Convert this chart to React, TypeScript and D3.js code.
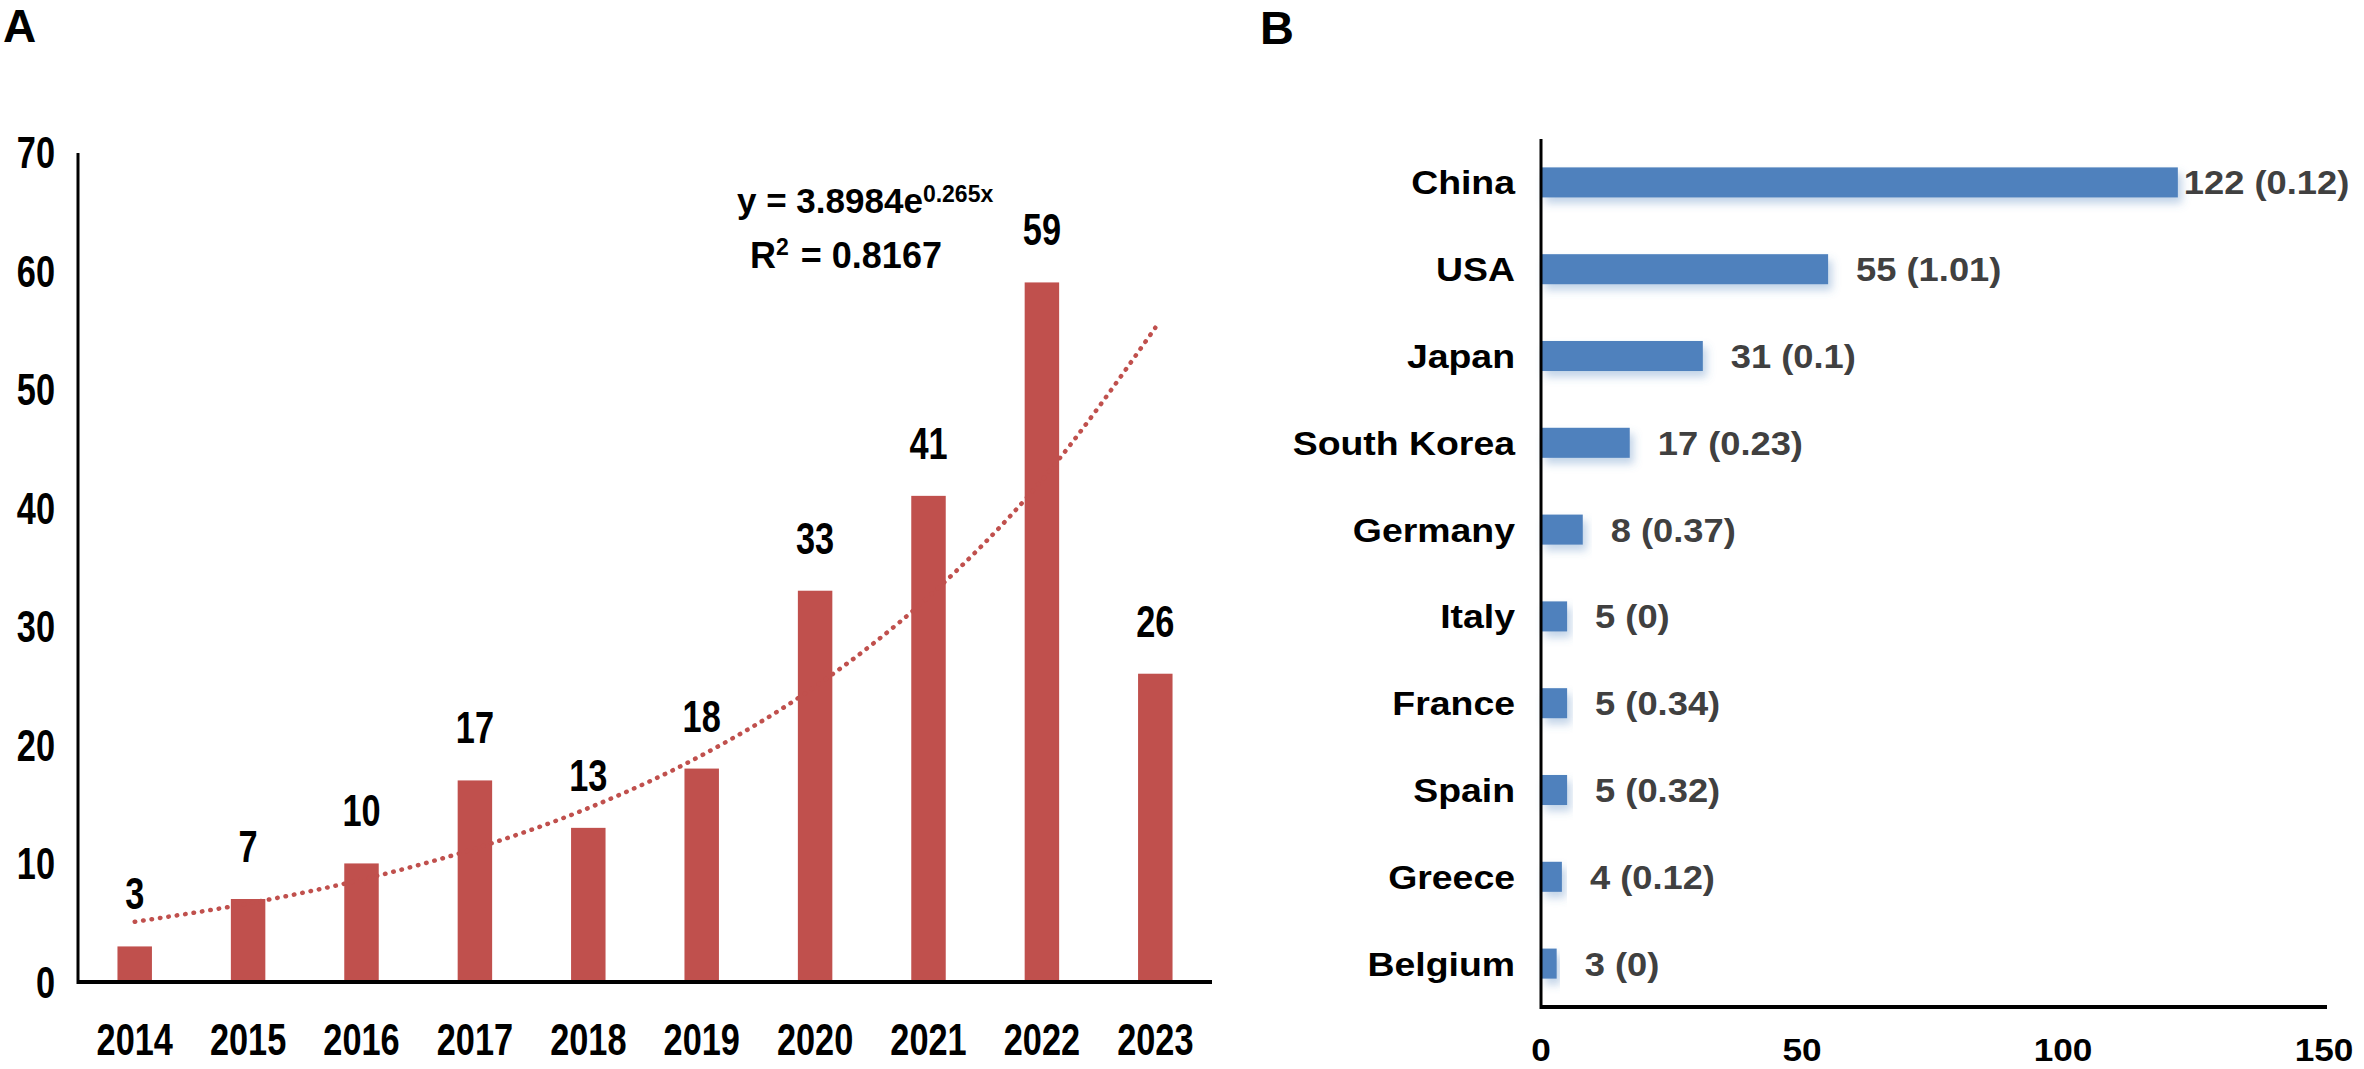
import React from 'react';
import * as d3 from 'd3';

// ---- Panel A data ----
const years = ['2014', '2015', '2016', '2017', '2018', '2019', '2020', '2021', '2022', '2023'];
const publications = [3, 7, 10, 17, 13, 18, 33, 41, 59, 26];
const yTicksA = [0, 10, 20, 30, 40, 50, 60, 70];
const trendCoefA = 3.8984;
const trendCoefB = 0.265;
const trendR2 = '0.8167';

// ---- Panel B data ----
const countries = ['China', 'USA', 'Japan', 'South Korea', 'Germany', 'Italy', 'France', 'Spain', 'Greece', 'Belgium'];
const countryCounts = [122, 55, 31, 17, 8, 5, 5, 5, 4, 3];
const countryScores = ['0.12', '1.01', '0.1', '0.23', '0.37', '0', '0.34', '0.32', '0.12', '0'];
const xTicksB = [0, 50, 100, 150];

const W = 2364;
const H = 1069;
const FONT = '"Liberation Sans", Arial, sans-serif';
const RED = '#c0504d';
const BLUE = '#4f81bd';

type TP = {
  x: number; y: number; sx?: number; anchor?: 'start' | 'middle' | 'end';
  size: number; fill?: string; children: React.ReactNode;
};
const T = ({ x, y, sx = 1, anchor = 'middle', size, fill = '#000', children }: TP) => (
  <text
    transform={`translate(${x},${y}) scale(${sx},1)`}
    textAnchor={anchor}
    fontSize={size}
    fontWeight="bold"
    fontFamily={FONT}
    fill={fill}
  >
    {children}
  </text>
);

export default function App() {
  // Panel A scales
  const xA = d3.scaleBand<string>().domain(years).range([78, 1212]).paddingInner(0.696).paddingOuter(0.348);
  const yA = d3.scaleLinear().domain([0, 70]).range([982, 152]);
  const NA = 0.78; // narrow factor for panel A labels

  const trendPts = years.map((yr, i) => ({ yr, v: trendCoefA * Math.exp(trendCoefB * (i + 1)) }));
  const trendLine = d3
    .line<{ yr: string; v: number }>()
    .x((d) => (xA(d.yr) as number) + xA.bandwidth() / 2)
    .y((d) => yA(d.v))
    .curve(d3.curveMonotoneX)(trendPts) as string;

  // Panel B scales
  const yB = d3.scaleBand<string>().domain(countries).range([139, 1007]).paddingInner(0.654).paddingOuter(0.327);
  const xB = d3.scaleLinear().domain([0, 150]).range([1541, 2324]);
  const SB = 1.1; // width factor for panel B labels

  return (
    <svg width={W} height={H} style={{ position: 'absolute', left: 0, top: 0, background: '#fff' }}>
      <defs>
        <filter id="shadowB" x="-20%" y="-50%" width="140%" height="250%">
          <feDropShadow dx="4" dy="6" stdDeviation="4" floodColor={BLUE} floodOpacity="0.35" />
        </filter>
      </defs>
      <rect x={0} y={0} width={W} height={H} fill="#fff" />

      {/* Panel letters */}
      <text x={3} y={42} fontSize={46} fontWeight="bold" fontFamily={FONT}>A</text>
      <text x={1260} y={44} fontSize={47} fontWeight="bold" fontFamily={FONT}>B</text>

      {/* ---------- Panel A ---------- */}
      {yTicksA.map((t) => (
        <T key={t} x={55} y={yA(t) + 16} sx={NA} anchor="end" size={44}>{t}</T>
      ))}
      {publications.map((v, i) => {
        const x = xA(years[i]) as number;
        return (
          <g key={years[i]}>
            <rect x={x} y={yA(v)} width={xA.bandwidth()} height={yA(0) - yA(v)} fill={RED} />
            <T x={x + xA.bandwidth() / 2} y={yA(v) - 37} sx={NA} size={44}>{v}</T>
            <T x={x + xA.bandwidth() / 2} y={1055} sx={NA} size={44}>{years[i]}</T>
          </g>
        );
      })}
      <path
        d={trendLine}
        fill="none"
        stroke={RED}
        strokeWidth={4.5}
        strokeDasharray="0.5 8"
        strokeLinecap="round"
      />
      <line x1={78} y1={153} x2={78} y2={984} stroke="#000" strokeWidth={3} />
      <line x1={77} y1={982} x2={1212} y2={982} stroke="#000" strokeWidth={4} />

      {/* Trend equation */}
      <text x={737} y={213} fontSize={35} fontWeight="bold" fontFamily={FONT}>
        {`y = ${trendCoefA}e`}
        <tspan fontSize={23} dy={-11}>{`${trendCoefB}x`}</tspan>
      </text>
      <text x={750} y={268} fontSize={36} fontWeight="bold" fontFamily={FONT}>
        R<tspan fontSize={23} dy={-13}>2</tspan>
        <tspan dy={13} dx={2}>{` = ${trendR2}`}</tspan>
      </text>

      {/* ---------- Panel B ---------- */}
      {countries.map((c, i) => {
        const y = yB(c) as number;
        const cy = y + yB.bandwidth() / 2;
        const end = xB(countryCounts[i]);
        const label = `${countryCounts[i]} (${countryScores[i]})`;
        const estW = label.length * 0.55 * 33 * SB;
        const gap = end + 28 + estW > W ? 6 : 28;
        return (
          <g key={c}>
            <rect
              x={xB(0)}
              y={y}
              width={end - xB(0)}
              height={yB.bandwidth()}
              fill={BLUE}
              filter="url(#shadowB)"
            />
            <T x={1515} y={cy + 12} sx={SB} anchor="end" size={34}>{c}</T>
            <T x={end + gap} y={cy + 12} sx={SB} anchor="start" size={33} fill="#404040">{label}</T>
          </g>
        );
      })}
      <line x1={1541} y1={139} x2={1541} y2={1009} stroke="#000" strokeWidth={3} />
      <line x1={1540} y1={1007} x2={2327} y2={1007} stroke="#000" strokeWidth={4} />
      {xTicksB.map((t) => (
        <T key={t} x={xB(t)} y={1061} sx={SB} size={32}>{t}</T>
      ))}
    </svg>
  );
}
